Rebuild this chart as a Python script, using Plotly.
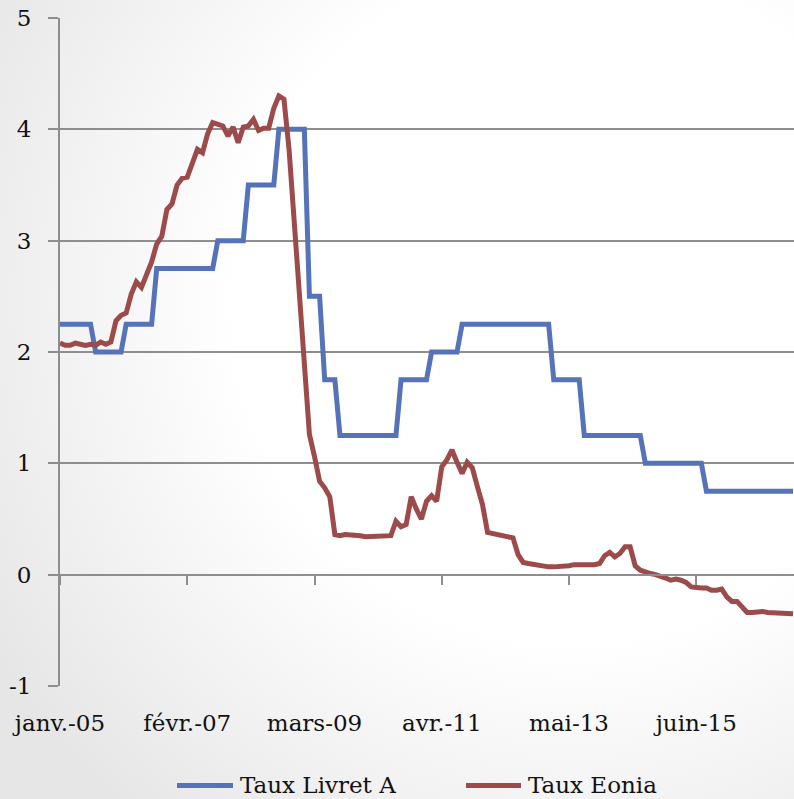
import base64
import plotly.graph_objects as go

# ── Données (mensuelles, janv. 2005 -> janv. 2017) ───────────────────────────
livret_a = [
    2.25, 2.25, 2.25, 2.25, 2.25, 2.25, 2.25, 2.00, 2.00, 2.00, 2.00, 2.00,   # 2005
    2.00, 2.25, 2.25, 2.25, 2.25, 2.25, 2.25, 2.75, 2.75, 2.75, 2.75, 2.75,   # 2006
    2.75, 2.75, 2.75, 2.75, 2.75, 2.75, 2.75, 3.00, 3.00, 3.00, 3.00, 3.00,   # 2007
    3.00, 3.50, 3.50, 3.50, 3.50, 3.50, 3.50, 4.00, 4.00, 4.00, 4.00, 4.00,   # 2008
    4.00, 2.50, 2.50, 2.50, 1.75, 1.75, 1.75, 1.25, 1.25, 1.25, 1.25, 1.25,   # 2009
    1.25, 1.25, 1.25, 1.25, 1.25, 1.25, 1.25, 1.75, 1.75, 1.75, 1.75, 1.75,   # 2010
    1.75, 2.00, 2.00, 2.00, 2.00, 2.00, 2.00, 2.25, 2.25, 2.25, 2.25, 2.25,   # 2011
    2.25, 2.25, 2.25, 2.25, 2.25, 2.25, 2.25, 2.25, 2.25, 2.25, 2.25, 2.25,   # 2012
    2.25, 1.75, 1.75, 1.75, 1.75, 1.75, 1.75, 1.25, 1.25, 1.25, 1.25, 1.25,   # 2013
    1.25, 1.25, 1.25, 1.25, 1.25, 1.25, 1.25, 1.00, 1.00, 1.00, 1.00, 1.00,   # 2014
    1.00, 1.00, 1.00, 1.00, 1.00, 1.00, 1.00, 0.75, 0.75, 0.75, 0.75, 0.75,   # 2015
    0.75, 0.75, 0.75, 0.75, 0.75, 0.75, 0.75, 0.75, 0.75, 0.75, 0.75, 0.75,   # 2016
    0.75,                                                                     # 2017
]

eonia = [
    2.08, 2.06, 2.06, 2.08, 2.07, 2.06, 2.07, 2.06, 2.09, 2.07, 2.09, 2.28,
    2.33, 2.35, 2.52, 2.63, 2.58, 2.70, 2.81, 2.97, 3.04, 3.28, 3.33, 3.50,
    3.56, 3.57, 3.69, 3.82, 3.79, 3.96, 4.06, 4.05, 4.03, 3.94, 4.02, 3.88,
    4.02, 4.03, 4.09, 3.99, 4.01, 4.01, 4.19, 4.30, 4.27, 3.82, 3.15, 2.49,
    1.81, 1.26, 1.06, 0.84, 0.78, 0.70, 0.36, 0.35, 0.36, 0.36, 0.36, 0.35,
    0.34, 0.34, 0.35, 0.35, 0.34, 0.35, 0.48, 0.43, 0.45, 0.70, 0.59, 0.50,
    0.66, 0.71, 0.66, 0.97, 1.03, 1.12, 1.01, 0.91, 1.01, 0.96, 0.79, 0.63,
    0.38, 0.37, 0.36, 0.35, 0.34, 0.33, 0.18, 0.11, 0.10, 0.09, 0.08, 0.07,
    0.07, 0.07, 0.07, 0.08, 0.08, 0.09, 0.09, 0.08, 0.08, 0.09, 0.10, 0.17,
    0.20, 0.16, 0.19, 0.25, 0.25, 0.08, 0.04, 0.02, 0.01, 0.00, -0.01, -0.03,
    -0.05, -0.04, -0.05, -0.07, -0.11, -0.12, -0.12, -0.12, -0.14, -0.14, -0.13, -0.20,
    -0.24, -0.24, -0.29, -0.34, -0.34, -0.33, -0.33, -0.34, -0.34, -0.35, -0.35, -0.35,
    -0.35,
]

series_names = ["Taux Livret A", "Taux Eonia"]
tick_pos = [0, 25, 50, 75, 100, 125]
tick_labels = ["janv.-05", "févr.-07", "mars-09", "avr.-11", "mai-13", "juin-15"]
y_ticks = [-1, 0, 1, 2, 3, 4, 5]
y_tick_labels = ["-1", "0", "1", "2", "3", "4", "5"]

COLORS = {
    "livret": "#5672b8",
    "eonia":  "#9c4a4a",
    "grid":   "#8e8e8e",
    "text":   "#111111",
}
FONT = "DejaVu Serif"
FS = 23

# zone de tracé en pixels (fenêtre 794 x 799)
L, T, B = 60, 18, 113
PW, PH = 794 - L, 799 - T - B


def px_x(p):
    return (p - L) / PW


def px_y(p):
    return (799 - B - p) / PH


# fond dégradé (comme la diapo d'origine)
svg = (
    '<svg xmlns="http://www.w3.org/2000/svg" width="794" height="799">'
    '<defs><radialGradient id="g" cx="0.72" cy="0.38" r="0.85">'
    '<stop offset="0" stop-color="#ffffff"/><stop offset="0.5" stop-color="#ffffff"/>'
    '<stop offset="1" stop-color="#e6e6e6"/></radialGradient></defs>'
    '<rect width="794" height="799" fill="url(#g)"/></svg>'
)
bg_uri = "data:image/svg+xml;base64," + base64.b64encode(svg.encode()).decode()

x = list(range(len(eonia)))
x_range = [0, 144.2]

fig = go.Figure()
fig.add_trace(go.Scatter(
    x=x, y=livret_a, mode="lines", name=series_names[0],
    line=dict(color=COLORS["livret"], width=5),
))
fig.add_trace(go.Scatter(
    x=x, y=eonia, mode="lines", name=series_names[1], xaxis="x2",
    line=dict(color=COLORS["eonia"], width=5),
))

# légende dessinée à la main (traits plus longs que ceux de Plotly)
legend_items = [(177, 233, COLORS["livret"]), (466, 521, COLORS["eonia"])]
for name, (x0, x1, col) in zip(series_names, legend_items):
    fig.add_shape(
        type="line", xref="paper", yref="paper",
        x0=px_x(x0), x1=px_x(x1), y0=px_y(785.5), y1=px_y(785.5),
        line=dict(color=col, width=5),
    )
    fig.add_annotation(
        text=name, xref="paper", yref="paper", showarrow=False,
        x=px_x(x1 + 5), y=px_y(785), xanchor="left", yanchor="middle",
        font=dict(size=FS, color=COLORS["text"]),
    )

fig.update_layout(
    width=794, height=799,
    paper_bgcolor="white",
    plot_bgcolor="rgba(0,0,0,0)",
    font=dict(family=FONT, size=FS, color=COLORS["text"]),
    margin=dict(l=L, r=0, t=T, b=B),
    showlegend=False,
    xaxis=dict(
        range=x_range, tickvals=tick_pos, ticktext=tick_labels,
        showgrid=False, zeroline=False, showline=False, ticks="",
        ticklabelstandoff=21, automargin=False,
    ),
    xaxis2=dict(
        range=x_range, overlaying="x", anchor="free", position=1 / 6,
        tickvals=tick_pos, showticklabels=False, showgrid=False, zeroline=False,
        showline=True, linecolor=COLORS["grid"], linewidth=2,
        ticks="outside", ticklen=9, tickwidth=2, tickcolor=COLORS["grid"],
        automargin=False,
    ),
    yaxis=dict(
        range=[-1, 5], tickvals=y_ticks, ticktext=y_tick_labels,
        showgrid=True, gridcolor=COLORS["grid"], gridwidth=2,
        zeroline=False, showline=True, linecolor=COLORS["grid"], linewidth=2,
        ticks="outside", ticklen=10, tickwidth=2, tickcolor=COLORS["grid"],
        ticklabelstandoff=12, automargin=False,
    ),
    images=[dict(
        source=bg_uri, xref="paper", yref="paper",
        x=-L / PW, y=1 + T / PH, sizex=794 / PW, sizey=799 / PH,
        xanchor="left", yanchor="top", sizing="stretch", layer="below",
    )],
)

# la page HTML a une marge de 8 px par défaut : on la retire
fig.write_html(
    "out.html",
    config={"displayModeBar": False},
    post_script="document.body.style.margin = '0';",
)
